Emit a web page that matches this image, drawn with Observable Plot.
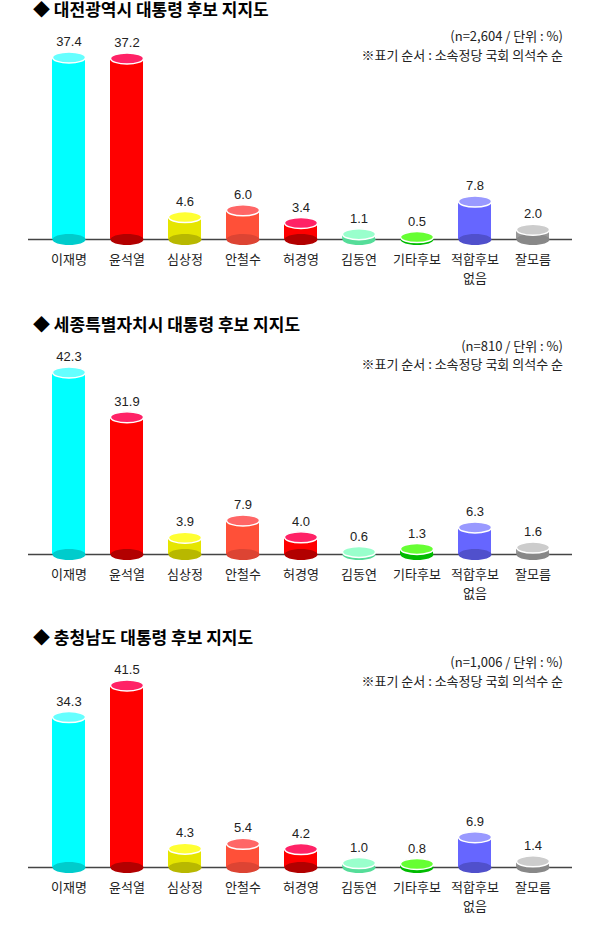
<!DOCTYPE html>
<html><head><meta charset="utf-8">
<script src="https://cdn.jsdelivr.net/npm/d3@7"></script>
<script src="https://cdn.jsdelivr.net/npm/@observablehq/plot@0.6"></script>
<style>
body{margin:0;background:#fff;width:600px;height:930px;overflow:hidden;position:relative;font-family:"Noto Sans CJK KR","Noto Sans",sans-serif;}
.panel{position:absolute;left:0;width:600px;height:314px;}
.title{position:absolute;left:33px;top:0;font-size:17px;line-height:17px;font-weight:700;color:#000;white-space:nowrap}
.note{position:absolute;right:37px;font-size:13px;line-height:13px;color:#222;white-space:nowrap}
</style></head><body>
<script>
// ---- data ----
const categories = ["이재명","윤석열","심상정","안철수","허경영","김동연","기타후보","적합후보\n없음","잘모름"];
const bodyColors   = ["#00ffff","#ff0000","#e5e500","#ff5038","#ff0000","#6ee3aa","#00cc00","#6666ff","#999999"];
const topColors    = ["#66ffff","#ff2266","#ffff33","#ff6666","#ff2266","#99ffcc","#66ff33","#9999ff","#cccccc"];
const bottomColors = ["#00cccc","#b20000","#b8b800","#dd4433","#b20000","#55dd99","#00bb00","#5050cc","#888888"];

const panelTitles = ["◆ 대전광역시 대통령 후보 지지도","◆ 세종특별자치시 대통령 후보 지지도","◆ 충청남도 대통령 후보 지지도"];
const sampleNotes = ["(n=2,604 / 단위 : %)","(n=810 / 단위 : %)","(n=1,006 / 단위 : %)"];
const orderNote = "※표기 순서 : 소속정당 국회 의석수 순";

const daejeonValues  = [37.4, 37.2, 4.6, 6.0, 3.4, 1.1, 0.5, 7.8, 2.0];
const sejongValues   = [42.3, 31.9, 3.9, 7.9, 4.0, 0.6, 1.3, 6.3, 1.6];
const chungnamValues = [34.3, 41.5, 4.3, 5.4, 4.2, 1.0, 0.8, 6.9, 1.4];
const panelValues = [daejeonValues, sejongValues, chungnamValues];

// ---- layout ----
const panelTops = [0, 314.7, 628];
const noteTops = [[28.5, 47.5], [24, 42.5], [26.5, 45.5]];

const ellipseSymbol = {
  draw(ctx, size) {
    const rx = Math.sqrt(size / Math.PI), ry = rx / 3, k = 0.5523;
    ctx.moveTo(rx, 0);
    ctx.bezierCurveTo(rx, k*ry, k*rx, ry, 0, ry);
    ctx.bezierCurveTo(-k*rx, ry, -rx, k*ry, -rx, 0);
    ctx.bezierCurveTo(-rx, -k*ry, -k*rx, -ry, 0, -ry);
    ctx.bezierCurveTo(k*rx, -ry, rx, -k*ry, rx, 0);
    ctx.closePath();
  }
};

panelValues.forEach((values, p) => {
  const rows = categories.map((name, i) => ({
    name, value: values[i], body: bodyColors[i], top: topColors[i], bottom: bottomColors[i]
  }));
  const panel = document.createElement("div");
  panel.className = "panel";
  panel.style.top = panelTops[p] + "px";
  const t = document.createElement("div");
  t.className = "title"; t.textContent = panelTitles[p];
  panel.appendChild(t);
  [sampleNotes[p], orderNote].forEach((txt, j) => {
    const n = document.createElement("div");
    n.className = "note"; n.textContent = txt; n.style.top = noteTops[p][j] + "px";
    panel.appendChild(n);
  });
  const chart = Plot.plot({
    width: 600, height: 280,
    marginTop: 37, marginBottom: 61, marginLeft: 28, marginRight: 28,
    x: {domain: categories, paddingInner: 0.437, paddingOuter: 0.36, axis: null},
    y: {domain: [0, d3.max(values)], axis: null},
    color: {type: "identity"},
    style: {background: "transparent", overflow: "visible"},
    marks: [
      Plot.ruleY([0], {stroke: "#444", strokeWidth: 1.5}),
      Plot.barY(rows, {x: "name", y: "value", fill: "body"}),
      Plot.dot(rows, {x: "name", y: () => 0, r: 16.5, symbol: ellipseSymbol, fill: "bottom"}),
      Plot.dot(rows, {x: "name", y: "value", r: 16.5, symbol: ellipseSymbol, fill: "top", stroke: "white", strokeWidth: 1.5}),
      Plot.text(rows, {x: "name", y: "value", text: d => d.value.toFixed(1), dy: -15.5, fontSize: 13, fontFamily: "Liberation Sans, Arial, sans-serif", fill: "#222"}),
      Plot.text(rows, {x: "name", y: () => 0, text: "name", lineAnchor: "top", dy: 11.5, fontSize: 13, lineHeight: 1.45, fontFamily: "Noto Sans CJK KR, sans-serif", fill: "#222"})
    ]
  });
  chart.style.position = "absolute"; chart.style.left = "0px"; chart.style.top = "20px";
  panel.appendChild(chart);
  document.body.appendChild(panel);
});
</script>
</body></html>
